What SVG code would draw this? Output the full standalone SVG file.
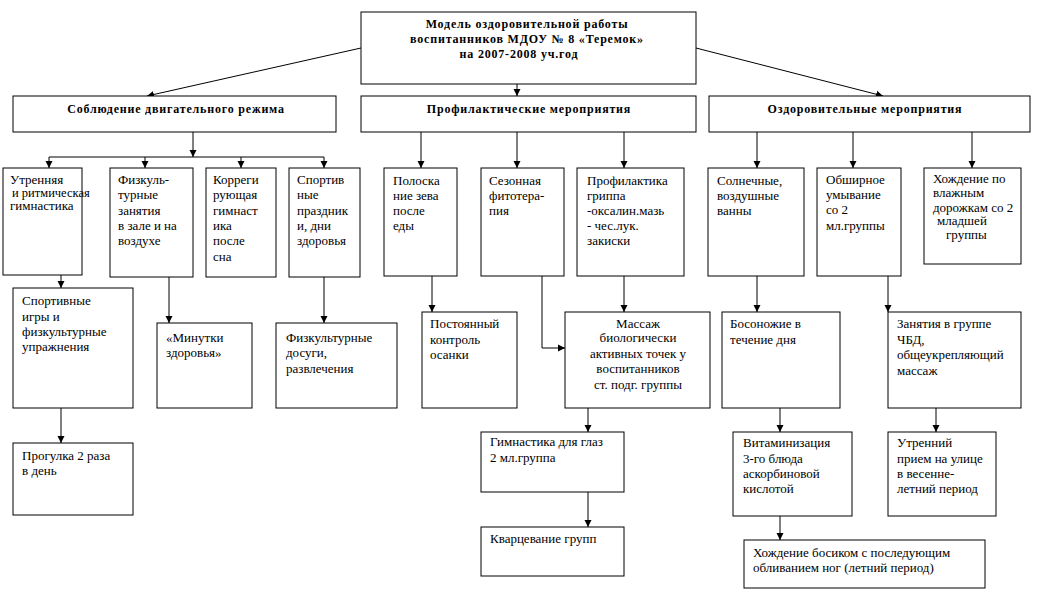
<svg xmlns="http://www.w3.org/2000/svg" width="1045" height="589" viewBox="0 0 1045 589">
<style>
rect{fill:#fff;stroke:#000;stroke-width:1}
.c line,.c polyline{stroke:#000;stroke-width:1;fill:none}
.a{marker-end:url(#ah)}
text{font-family:"Liberation Serif","Times New Roman",serif;font-size:13px;fill:#000}
.b{font-weight:bold;font-size:12px;text-anchor:middle;letter-spacing:0.8px}
.m{text-anchor:middle}
</style>
<defs>
<marker id="ah" markerWidth="8" markerHeight="8" refX="7" refY="4" orient="auto" markerUnits="userSpaceOnUse">
<path d="M0,0.5 L7,4 L0,7.5 z" fill="#000"/>
</marker>
</defs>
<rect x="0" y="0" width="1045" height="589" style="stroke:none"/>
<g class="c" id="connectors">
<line class="a" x1="361" y1="48" x2="147" y2="96"/>
<line class="a" x1="696" y1="48" x2="883" y2="96"/>
<line class="a" x1="517" y1="84" x2="517" y2="96"/>
<line class="a" x1="193" y1="132" x2="193" y2="157"/>
<line x1="49" y1="157" x2="324" y2="157"/>
<line class="a" x1="49" y1="157" x2="49" y2="168"/>
<line class="a" x1="145" y1="157" x2="145" y2="168"/>
<line class="a" x1="241" y1="157" x2="241" y2="168"/>
<line class="a" x1="324" y1="157" x2="324" y2="168"/>
<line class="a" x1="421" y1="132" x2="421" y2="168"/>
<line class="a" x1="517" y1="132" x2="517" y2="168"/>
<line class="a" x1="624" y1="132" x2="624" y2="168"/>
<line class="a" x1="757" y1="132" x2="757" y2="168"/>
<line class="a" x1="853" y1="132" x2="853" y2="168"/>
<line class="a" x1="972" y1="132" x2="972" y2="168"/>
<line class="a" x1="61" y1="275" x2="61" y2="288"/>
<line class="a" x1="61" y1="408" x2="61" y2="443"/>
<line class="a" x1="169" y1="277" x2="169" y2="323"/>
<line class="a" x1="324" y1="277" x2="324" y2="323"/>
<line class="a" x1="432" y1="276" x2="432" y2="312"/>
<polyline class="a" points="542,276 542,348 565,348"/>
<line class="a" x1="624" y1="276" x2="624" y2="312"/>
<line class="a" x1="588" y1="408" x2="588" y2="432"/>
<line class="a" x1="588" y1="492" x2="588" y2="527"/>
<line class="a" x1="757" y1="276" x2="757" y2="312"/>
<line class="a" x1="888" y1="276" x2="888" y2="312"/>
<line class="a" x1="780" y1="408" x2="780" y2="432"/>
<line class="a" x1="936" y1="408" x2="936" y2="432"/>
<line class="a" x1="780" y1="516" x2="780" y2="540"/>
</g>
<g id="root">
<rect x="361" y="12" width="335" height="72"/>
<text class="b" x="527" y="28">Модель оздоровительной работы</text>
<text class="b" x="527" y="43">воспитанников МДОУ № 8 «Теремок»</text>
<text class="b" x="519" y="58">на 2007-2008 уч.год</text>
</g>
<g id="motor">
<rect x="13" y="96" width="323" height="36"/>
<text class="b" x="176" y="113">Соблюдение двигательного режима</text>
</g>
<g id="prophylactic">
<rect x="361" y="96" width="335" height="36"/>
<text class="b" x="529" y="113">Профилактические мероприятия</text>
</g>
<g id="health">
<rect x="709" y="96" width="321" height="36"/>
<text class="b" x="865" y="113">Оздоровительные мероприятия</text>
</g>
<g id="a1">
<rect x="3" y="168" width="79" height="107"/>
<text x="10" y="184">Утренняя</text>
<text x="12" y="197" style="font-size:12.5px">и ритмическая</text>
<text x="10" y="210">гимнастика</text>
</g>
<g id="a2">
<rect x="110" y="168" width="83" height="109"/>
<text x="118" y="184">Физкуль-</text>
<text x="118" y="199">турные</text>
<text x="118" y="215">занятия</text>
<text x="118" y="230">в зале и на</text>
<text x="118" y="245">воздухе</text>
</g>
<g id="a3">
<rect x="206" y="168" width="70" height="109"/>
<text x="213" y="184">Корреги</text>
<text x="213" y="199">рующая</text>
<text x="213" y="215">гимнаст</text>
<text x="213" y="230">ика</text>
<text x="213" y="245">после</text>
<text x="213" y="261">сна</text>
</g>
<g id="a4">
<rect x="289" y="168" width="71" height="109"/>
<text x="297" y="184">Спортив</text>
<text x="297" y="199">ные</text>
<text x="297" y="215">праздник</text>
<text x="297" y="230">и, дни</text>
<text x="297" y="245">здоровья</text>
</g>
<g id="b1">
<rect x="384" y="168" width="73" height="108"/>
<text x="393" y="185">Полоска</text>
<text x="393" y="200">ние зева</text>
<text x="393" y="215">после</text>
<text x="393" y="230">еды</text>
</g>
<g id="b2">
<rect x="481" y="168" width="83" height="108"/>
<text x="489" y="185">Сезонная</text>
<text x="489" y="200">фитотера-</text>
<text x="489" y="215">пия</text>
</g>
<g id="b3">
<rect x="577" y="168" width="107" height="108"/>
<text x="587" y="185">Профилактика</text>
<text x="587" y="200">гриппа</text>
<text x="587" y="215">-оксалин.мазь</text>
<text x="587" y="230">- чес.лук.</text>
<text x="587" y="245">закиски</text>
</g>
<g id="c1">
<rect x="708" y="168" width="96" height="108"/>
<text x="717" y="185">Солнечные,</text>
<text x="717" y="200">воздушные</text>
<text x="717" y="215">ванны</text>
</g>
<g id="c2">
<rect x="817" y="168" width="84" height="108"/>
<text x="826" y="184">Обширное</text>
<text x="826" y="199">умывание</text>
<text x="826" y="214">со 2</text>
<text x="826" y="230">мл.группы</text>
</g>
<g id="c3">
<rect x="924" y="168" width="97" height="96"/>
<text x="933" y="183">Хождение по</text>
<text x="933" y="197">влажным</text>
<text x="933" y="212">дорожкам со 2</text>
<text x="937" y="225">младшей</text>
<text x="946" y="239">группы</text>
</g>
<g id="a1b">
<rect x="13" y="288" width="120" height="120"/>
<text x="22" y="305">Спортивные</text>
<text x="22" y="321">игры и</text>
<text x="22" y="336">физкультурные</text>
<text x="22" y="351">упражнения</text>
</g>
<g id="a1c">
<rect x="13" y="443" width="120" height="72"/>
<text x="22" y="460">Прогулка 2 раза</text>
<text x="22" y="475">в день</text>
</g>
<g id="a2b">
<rect x="157" y="323" width="95" height="85"/>
<text x="166" y="342">«Минутки</text>
<text x="166" y="357">здоровья»</text>
</g>
<g id="a4b">
<rect x="276" y="323" width="121" height="85"/>
<text x="286" y="342">Физкультурные</text>
<text x="286" y="357">досуги,</text>
<text x="286" y="373">развлечения</text>
</g>
<g id="b1b">
<rect x="422" y="312" width="95" height="96"/>
<text x="430" y="328">Постоянный</text>
<text x="430" y="344">контроль</text>
<text x="430" y="359">осанки</text>
</g>
<g id="b3b">
<rect x="565" y="312" width="145" height="96"/>
<text class="m" x="638" y="328">Массаж</text>
<text class="m" x="638" y="342">биологически</text>
<text class="m" x="638" y="358">активных точек  у</text>
<text class="m" x="638" y="373">воспитанников</text>
<text class="m" x="638" y="389">ст. подг. группы</text>
</g>
<g id="b3c">
<rect x="481" y="432" width="143" height="60"/>
<text x="490" y="446">Гимнастика для глаз</text>
<text x="490" y="462">2 мл.группа</text>
</g>
<g id="b3d">
<rect x="481" y="527" width="143" height="49"/>
<text x="490" y="543">Кварцевание групп</text>
</g>
<g id="c1b">
<rect x="722" y="312" width="118" height="96"/>
<text x="730" y="328">Босоножие в</text>
<text x="730" y="344">течение дня</text>
</g>
<g id="c2b">
<rect x="888" y="312" width="133" height="96"/>
<text x="897" y="328">Занятия в группе</text>
<text x="897" y="344">ЧБД,</text>
<text x="897" y="359">общеукрепляющий</text>
<text x="897" y="375">массаж</text>
</g>
<g id="c1c">
<rect x="733" y="432" width="119" height="84"/>
<text x="743" y="447">Витаминизация</text>
<text x="743" y="463">3-го блюда</text>
<text x="743" y="478">аскорбиновой</text>
<text x="743" y="493">кислотой</text>
</g>
<g id="c2c">
<rect x="888" y="432" width="108" height="84"/>
<text x="897" y="447">Утренний</text>
<text x="897" y="463">прием на улице</text>
<text x="897" y="478">в весенне-</text>
<text x="897" y="493">летний период</text>
</g>
<g id="c1d">
<rect x="744" y="540" width="241" height="48"/>
<text x="753" y="557">Хождение  босиком с последующим</text>
<text x="753" y="572">обливанием ног (летний период)</text>
</g>
</svg>
